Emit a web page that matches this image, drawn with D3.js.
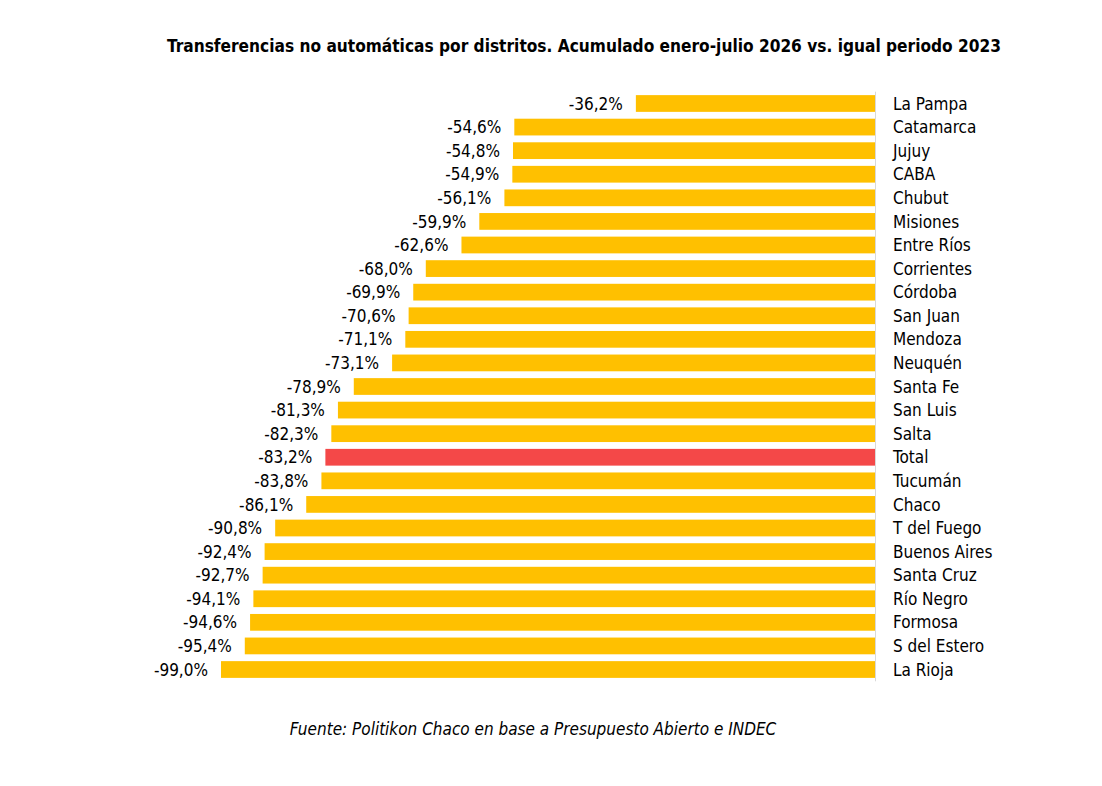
<!DOCTYPE html>
<html>
<head>
<meta charset="utf-8">
<script src="https://cdn.jsdelivr.net/npm/d3@7"></script>
<style>
  body { margin: 0; background: #fff; }
  svg { display: block; }
  text { font-family: "Liberation Sans Narrow", "DejaVu Sans Condensed", "Roboto Condensed", sans-serif; }
</style>
</head>
<body>
<script>
const categories = ["La Pampa","Catamarca","Jujuy","CABA","Chubut","Misiones","Entre Ríos","Corrientes","Córdoba","San Juan","Mendoza","Neuquén","Santa Fe","San Luis","Salta","Total","Tucumán","Chaco","T del Fuego","Buenos Aires","Santa Cruz","Río Negro","Formosa","S del Estero","La Rioja"];
const values = [-36.2,-54.6,-54.8,-54.9,-56.1,-59.9,-62.6,-68.0,-69.9,-70.6,-71.1,-73.1,-78.9,-81.3,-82.3,-83.2,-83.8,-86.1,-90.8,-92.4,-92.7,-94.1,-94.6,-95.4,-99.0];
const highlight = "Total";
const title = "Transferencias no automáticas por distritos. Acumulado enero-julio 2026 vs. igual periodo 2023";
const source = "Fuente: Politikon Chaco en base a Presupuesto Abierto e INDEC";

const W = 1102, H = 786;
const svg = d3.select("body").append("svg").attr("width", W).attr("height", H);

const x = d3.scaleLinear().domain([-100, 0]).range([214.4, 875]);
const y = d3.scaleBand().domain(categories).range([91.7, 681.3]).paddingInner(0.29).paddingOuter(0.145);

const data = categories.map((c, i) => ({ c, v: values[i] }));
const fmt = v => d3.format(".1f")(v).replace("−", "-").replace(".", ",") + "%";

svg.append("text")
  .attr("x", 167).attr("y", 52)
  .attr("font-size", 18.5).attr("font-weight", "bold").attr("fill", "#000")
  .attr("textLength", 834).attr("lengthAdjust", "spacingAndGlyphs")
  .text(title);

svg.append("g").selectAll("rect").data(data).join("rect")
  .attr("x", d => x(d.v))
  .attr("y", d => y(d.c))
  .attr("width", d => x(0) - x(d.v))
  .attr("height", y.bandwidth())
  .attr("fill", d => d.c === highlight ? "#F44848" : "#FFC000");

// axis line at zero
svg.append("line")
  .attr("x1", x(0) + 0.5).attr("x2", x(0) + 0.5)
  .attr("y1", y.range()[0]).attr("y2", y.range()[1])
  .attr("stroke", "#d9d9d9").attr("stroke-width", 1);

svg.append("g").selectAll("text").data(data).join("text")
  .attr("x", d => x(d.v) - 13)
  .attr("y", d => y(d.c) + y.bandwidth() / 2)
  .attr("dy", "0.36em")
  .attr("text-anchor", "end")
  .attr("font-size", 17).attr("fill", "#000")
  .text(d => fmt(d.v));

const yAxis = d3.axisRight(y).tickSize(0).tickPadding(0);
const ag = svg.append("g").attr("transform", `translate(893,0)`).call(yAxis);
ag.select(".domain").remove();
ag.selectAll("text").attr("font-size", 17).attr("fill", "#000")
  .attr("font-family", "'Liberation Sans Narrow', 'DejaVu Sans Condensed', sans-serif")
  .attr("dy", "0.36em");

svg.append("text")
  .attr("x", 533).attr("y", 735)
  .attr("text-anchor", "middle")
  .attr("font-size", 17).attr("font-style", "italic").attr("fill", "#000")
  .text(source);
</script>
</body>
</html>
